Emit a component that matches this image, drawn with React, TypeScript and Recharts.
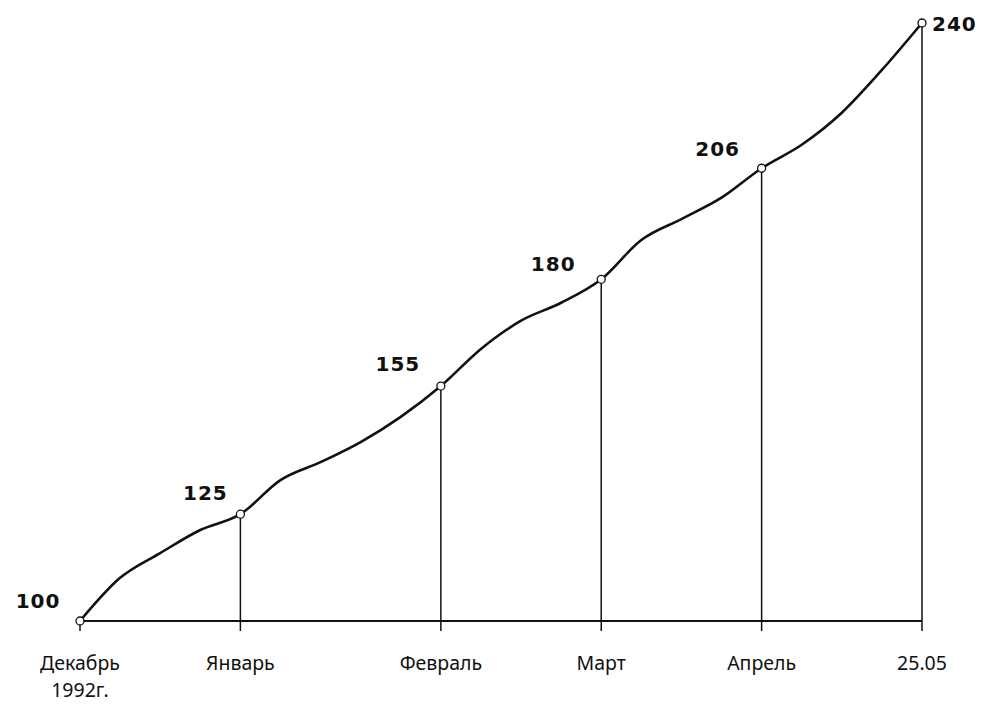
import React from 'react';
import { LineChart, Line, XAxis, YAxis, ReferenceLine, LabelList } from 'recharts';

// position along the axis (schematic steps) and index value
const steps = [0, 1, 2, 3, 4, 5, 6, 7, 8, 9, 10, 11, 12, 13, 14, 15, 16, 17, 18, 19, 20, 21];
const values = [100, 110.1, 115.9, 121.3, 125, 133, 137.2, 141.9, 147.8, 155, 163.7, 170.3, 174.5, 180, 189.2, 194.1, 199.1, 206, 211.5, 219, 229, 240];

const tickSteps = [0, 4, 9, 13, 17, 21];
const tickLabels = ['Декабрь|1992г.', 'Январь', 'Февраль', 'Март', 'Апрель', '25.05'];

const data = steps.map((s, i) => ({
  x: s,
  v: values[i],
  mark: tickSteps.includes(s) ? values[i] : null,
}));

// where each value label sits relative to its point
const labelOffset: Record<number, [number, number, string]> = {
  0: [-42, -13, 'middle'],
  4: [-35, -14, 'middle'],
  9: [-43, -15, 'middle'],
  13: [-48, -8, 'middle'],
  17: [-44, -12, 'middle'],
  21: [10, 8, 'start'],
};

const font = '"Noto Sans", sans-serif';

const Tick = (props: any) => {
  const { x, y, payload } = props;
  const idx = tickSteps.indexOf(payload.value);
  const lines = (tickLabels[idx] || '').split('|');
  return (
    <g>
      {lines.map((l, i) => (
        <text key={i} x={x} y={y + 37 + i * 27} textAnchor="middle" fontSize={19.5} fontFamily={font} fill="#111">
          {l}
        </text>
      ))}
    </g>
  );
};

const Dot = (props: any) => {
  const { cx, cy, payload } = props;
  if (payload.mark == null) return null;
  return <circle key={payload.x} cx={cx} cy={cy} r={4} fill="#fff" stroke="#111" strokeWidth={1.3} />;
};

const ValueLabel = (props: any) => {
  const { x, y, value, index } = props;
  if (value == null) return null;
  const s = data[index].x;
  const [dx, dy, anchor] = labelOffset[s] || [0, -10, 'middle'];
  return (
    <text
      x={x + dx}
      y={y + dy}
      textAnchor={anchor}
      fontSize={20}
      fontWeight="bold"
      letterSpacing={1}
      fontFamily='"DejaVu Sans", sans-serif'
      fill="#111"
    >
      {value}
    </text>
  );
};

export default function App() {
  return (
    <div style={{ position: 'absolute', left: 0, top: 0, background: '#fff' }}>
      <LineChart width={986} height={709} data={data} margin={{ top: 23, right: 64, bottom: 28, left: 80 }}>
        <XAxis
          dataKey="x"
          type="number"
          domain={[0, 21]}
          ticks={tickSteps}
          tick={<Tick />}
          height={60}
          axisLine={{ stroke: '#111', strokeWidth: 2 }}
          tickLine={{ stroke: '#111', strokeWidth: 1.5 }}
          tickSize={10}
          interval={0}
        />
        <YAxis type="number" domain={[100, 240]} hide />
        {tickSteps.slice(1).map((s) => (
          <ReferenceLine
            key={s}
            segment={[
              { x: s, y: 100 },
              { x: s, y: values[steps.indexOf(s)] },
            ]}
            stroke="#111"
            strokeWidth={1.5}
          />
        ))}
        <Line
          dataKey="v"
          type="monotone"
          stroke="#111"
          strokeWidth={2.6}
          dot={<Dot />}
          activeDot={false}
          isAnimationActive={false}
        >
          <LabelList dataKey="mark" content={<ValueLabel />} />
        </Line>
      </LineChart>
    </div>
  );
}
